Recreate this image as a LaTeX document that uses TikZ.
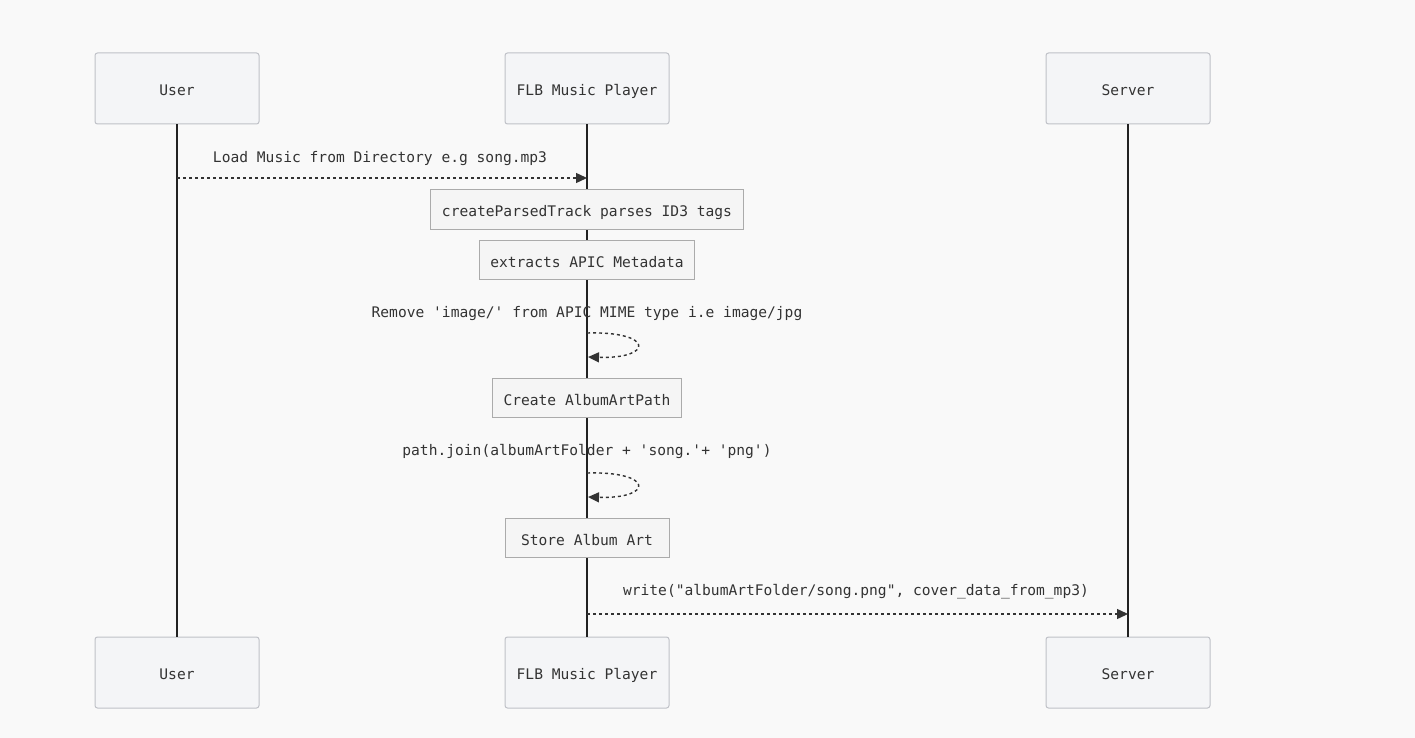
\documentclass[tikz,border=0pt]{standalone}
\usepackage{fontspec}
\setmonofont{DejaVu Sans Mono}
\usetikzlibrary{arrows.meta,positioning}
\definecolor{bgcol}{HTML}{F9F9F9}
\definecolor{actorfill}{HTML}{F4F5F7}
\definecolor{actorline}{HTML}{BFC1C7}
\definecolor{notefill}{HTML}{F5F5F5}
\definecolor{noteline}{HTML}{ABABAB}
\definecolor{txt}{HTML}{333333}
\definecolor{lifecol}{HTML}{222222}
\newcommand{\seqfont}{\fontsize{14.6}{17}\ttfamily}

\begin{document}
\begin{tikzpicture}[x=1pt,y=-1pt]
  \tikzset{actor/.style = {draw=actorline, fill=actorfill, rounded corners=2.5pt,
      line width=1pt, minimum width=164pt, minimum height=71pt,
      font=\seqfont, text=txt, text height=14.5pt, text depth=0pt},
    note/.style = {draw=noteline, fill=notefill, line width=1pt,
      minimum width=164pt, minimum height=39pt, inner xsep=11pt,
      font=\seqfont, text=txt, text height=14.5pt, text depth=0pt},
    lbl/.style = {font=\seqfont, text=txt, text height=10.5pt, text depth=0pt, inner sep=0pt},
    life/.style = {draw=lifecol, line width=2pt},
    msg/.style = {draw=txt, line width=1.4pt, dash pattern=on 3pt off 3pt,
      -{Triangle[length=11pt,width=10pt]}}}
  \useasboundingbox[fill=bgcol] (0,0) rectangle (1415,738);

  % actors
  \node[actor] (userT) at (177,88.5) {User};
  \node[actor] (flbT) at (587,88.5) {FLB Music Player};
  \node[actor] (srvT) at (1128,88.5) {Server};
  \node[actor] (userB) at (177,672.5) {User};
  \node[actor] (flbB) at (587,672.5) {FLB Music Player};
  \node[actor] (srvB) at (1128,672.5) {Server};

  % lifelines
  \draw[life] (userT) -- (userB);
  \draw[life] (flbT) -- (flbB);
  \draw[life] (srvT) -- (srvB);

  % load music
  \node[lbl] (loadTxt) at (380,157) {Load Music from Directory e.g song.mp3};
  \coordinate (loadA) at (177,178);
  \coordinate (loadB) at (587,178);
  \draw[msg] (loadA) -- (loadB);

  % notes over the player
  \node[note] (parseNote) at (587,209.5) {createParsedTrack parses ID3 tags};
  \node[note] (apicNote) at (587,260) {extracts APIC Metadata};

  % strip mime type
  \node[lbl] (mimeTxt) at (587,312) {Remove 'image/' from APIC MIME type i.e image/jpg};
  \coordinate (mimeA) at (587,333);
  \coordinate (mimeB) at (588,357);
  \draw[msg] (mimeA) .. controls (654,331) and (654,359) .. (mimeB);

  \node[note] (pathNote) at (587,398) {Create AlbumArtPath};

  % join path
  \node[lbl] (joinTxt) at (587,450) {path.join(albumArtFolder + 'song.'+ 'png')};
  \coordinate (joinA) at (587,473);
  \coordinate (joinB) at (588,497);
  \draw[msg] (joinA) .. controls (654,471) and (654,499) .. (joinB);

  \node[note] (storeNote) at (587,538) {Store Album Art};

  % write to server
  \node[lbl] (writeTxt) at (856,590) {write("albumArtFolder/song.png", cover\_data\_from\_mp3)};
  \coordinate (writeA) at (587,614);
  \coordinate (writeB) at (1128,614);
  \draw[msg] (writeA) -- (writeB);
\end{tikzpicture}
\end{document}
